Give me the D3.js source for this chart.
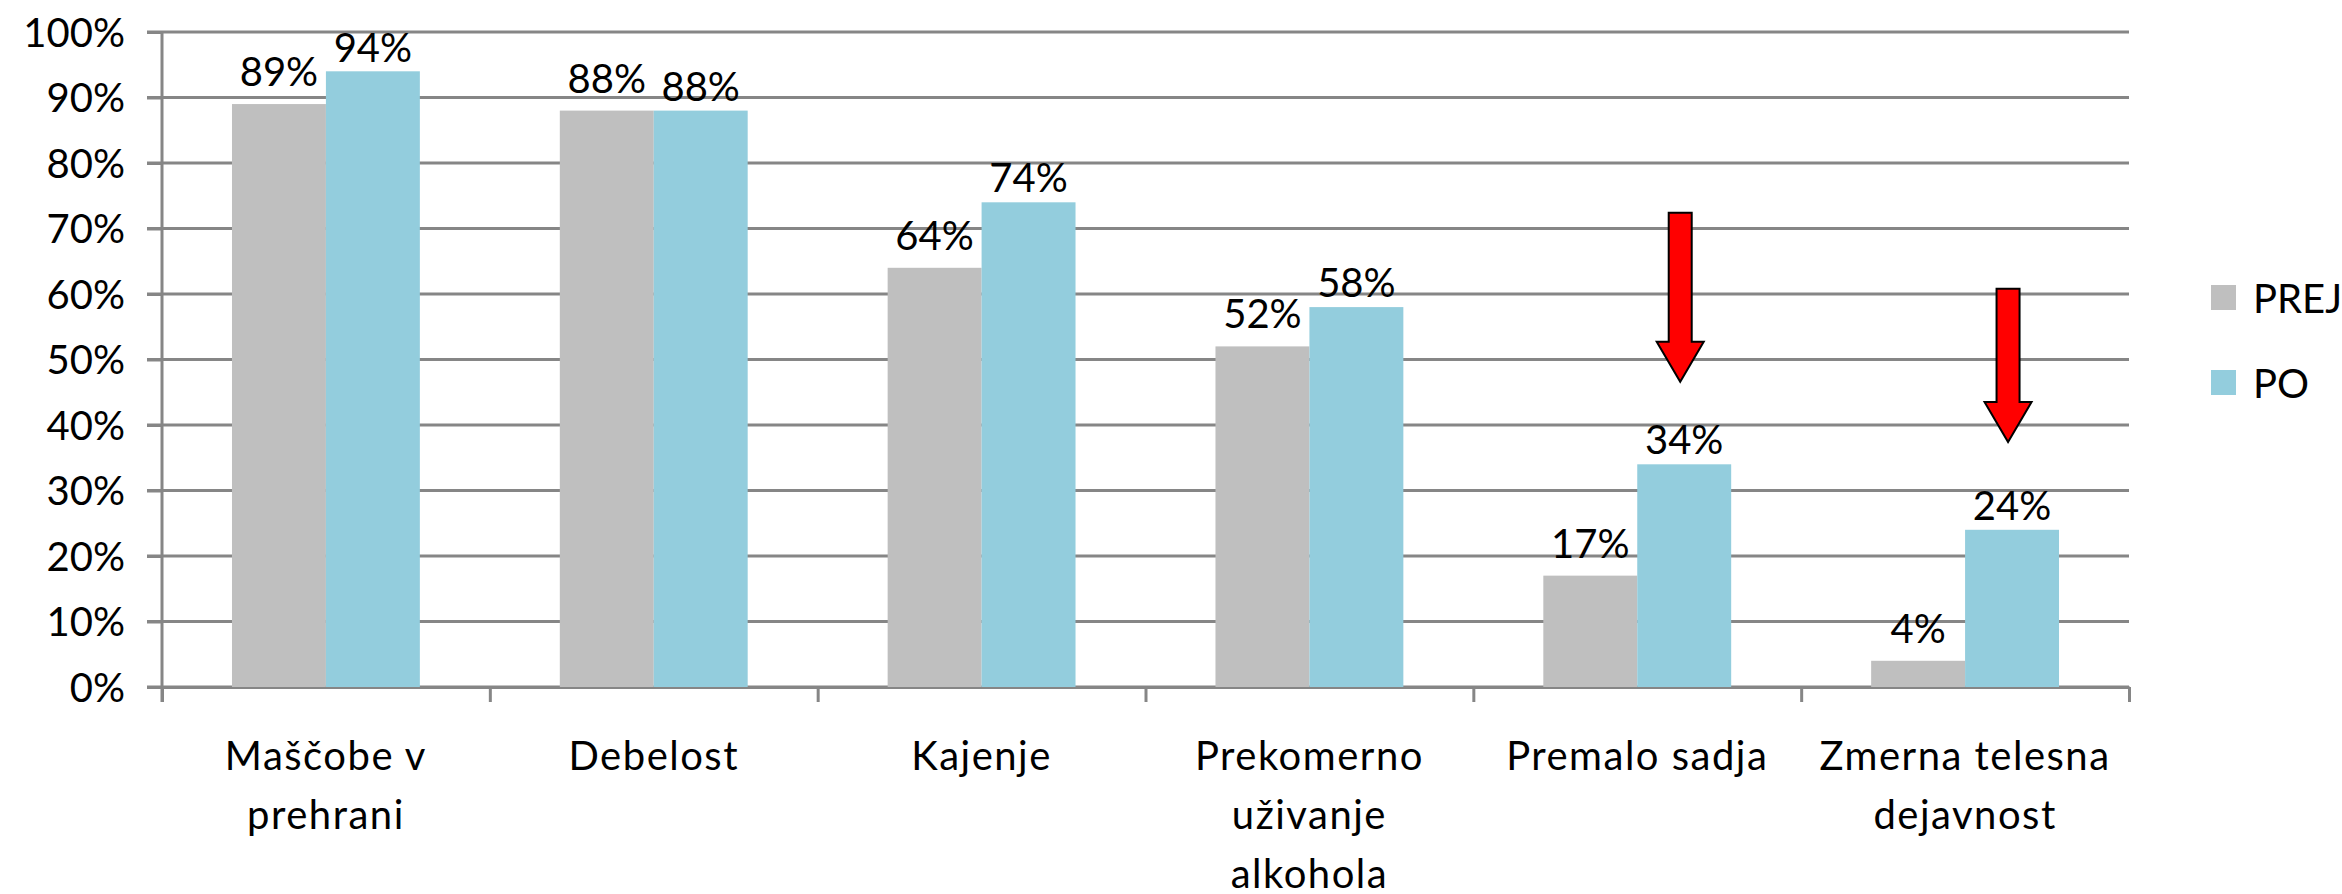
<html>
<head>
<meta charset="utf-8">
<script src="https://d3js.org/d3.v7.min.js"></script>
<style>
  body { margin: 0; background: white; }
  text { font-family: Lato, "Open Sans", sans-serif; fill: black; }
  .y.axis path { display: none; }
  .y.axis line, .x.axis line { stroke: #868686; stroke-width: 3; }
  .x.axis path { stroke: #868686; stroke-width: 3; }
</style>
</head>
<body>
<div id="chart"></div>
<script>
// data
var categories = ["Maščobe v\nprehrani", "Debelost", "Kajenje", "Prekomerno\nuživanje\nalkohola", "Premalo sadja", "Zmerna telesna\ndejavnost"];
var seriesNames = ["PREJ", "PO"];
var prej = [0.89, 0.88, 0.64, 0.52, 0.17, 0.04];
var po = [0.94, 0.88, 0.74, 0.58, 0.34, 0.24];
var yTicks = [0, 0.1, 0.2, 0.3, 0.4, 0.5, 0.6, 0.7, 0.8, 0.9, 1];
var colors = ["#BFBFBF", "#93CDDD"];

// red arrows (annotation) over the PO bars
var arrowCats = ["Premalo sadja", "Zmerna telesna\ndejavnost"];
var arrowFrom = [0.724, 0.608];
var arrowTo = [0.466, 0.374];

var W = 2342, H = 894;
var pLeft = 162, pRight = 2129, pTop = 32, pBottom = 687;
var fs = "40px";

var svg = d3.select("#chart").append("svg")
    .attr("width", W).attr("height", H);

var y = d3.scaleLinear().domain([0, 1]).range([pBottom, pTop]);
var x0 = d3.scaleBand().domain(categories).range([pLeft, pRight]).padding(0);
var x1 = d3.scaleBand().domain(seriesNames).range([0, x0.bandwidth()]).paddingInner(0).paddingOuter(0.745);

// gridlines
svg.append("g").selectAll("line")
  .data(yTicks)
  .enter().append("line")
    .attr("x1", pLeft - 15).attr("x2", pRight)
    .attr("y1", function(d) { return y(d); })
    .attr("y2", function(d) { return y(d); })
    .style("stroke", "#868686")
    .style("stroke-width", 3);

// y axis
var yAxis = svg.append("g")
    .attr("class", "y axis")
    .attr("transform", "translate(" + pLeft + ",0)")
    .call(d3.axisLeft(y).tickValues(yTicks).tickSize(15).tickPadding(22).tickFormat(d3.format(".0%")));
yAxis.selectAll("text").style("font-size", fs).style("font-family", "Lato").attr("dy", "0.36em");
yAxis.append("line").attr("x1", 0).attr("x2", 0).attr("y1", pTop).attr("y2", pBottom + 15);

// x axis (ticks at category boundaries)
var xb = d3.scaleLinear().domain([0, categories.length]).range([pLeft, pRight]);
svg.append("g")
    .attr("class", "x axis")
    .attr("transform", "translate(0," + pBottom + ")")
    .call(d3.axisBottom(xb).tickValues(d3.range(categories.length + 1)).tickSize(15).tickSizeOuter(0).tickFormat(""));

// bars
var data = categories.map(function(c, i) { return {cat: c, values: [prej[i], po[i]]}; });
var groups = svg.append("g").selectAll("g")
  .data(data)
  .enter().append("g")
    .attr("transform", function(d) { return "translate(" + x0(d.cat) + ",0)"; });

groups.selectAll("rect")
  .data(function(d) { return d.values.map(function(v, k) { return {s: seriesNames[k], v: v, k: k}; }); })
  .enter().append("rect")
    .attr("x", function(d) { return x1(d.s); })
    .attr("width", x1.bandwidth())
    .attr("y", function(d) { return y(d.v); })
    .attr("height", function(d) { return y(0) - y(d.v); })
    .style("fill", function(d) { return colors[d.k]; });

// value labels
var labelGap = [18, 10];
groups.selectAll("text")
  .data(function(d) { return d.values.map(function(v, k) { return {s: seriesNames[k], v: v, k: k}; }); })
  .enter().append("text")
    .attr("x", function(d) { return x1(d.s) + x1.bandwidth() / 2; })
    .attr("y", function(d) { return Math.max(y(d.v) - labelGap[d.k], pTop + 30); })
    .style("text-anchor", "middle")
    .style("font-size", fs)
    .text(function(d) { return d3.format(".0%")(d.v); });

// category labels
svg.append("g").selectAll("text")
  .data(categories)
  .enter().append("text")
    .attr("x", function(d) { return x0(d) + x0.bandwidth() / 2; })
    .attr("y", 770)
    .style("text-anchor", "middle")
    .style("font-size", fs)
    .style("letter-spacing", "1.5px")
    .each(function(d) {
      var t = d3.select(this);
      d.split("\n").forEach(function(line, i) {
        t.append("tspan")
          .attr("x", x0(d) + x0.bandwidth() / 2)
          .attr("dy", i === 0 ? 0 : 59)
          .text(line);
      });
    });

// arrows
arrowCats.forEach(function(c, i) {
  var cx = x0(c) + x1("PO") + x1.bandwidth() / 2 - 4;
  var ya = y(arrowFrom[i]), yb = y(arrowTo[i]);
  var head = 40, sw = 11.5, hw = 23.5;
  var pts = [
    [cx - sw, ya], [cx + sw, ya], [cx + sw, yb - head], [cx + hw, yb - head],
    [cx, yb], [cx - hw, yb - head], [cx - sw, yb - head]
  ];
  svg.append("path")
    .attr("d", d3.line()(pts) + "Z")
    .style("fill", "#FF0000")
    .style("stroke", "black")
    .style("stroke-width", 2);
});

// legend
var legend = svg.append("g").selectAll("g")
  .data(seriesNames)
  .enter().append("g")
    .attr("transform", function(d, i) { return "translate(2211," + (285 + i * 85) + ")"; });
legend.append("rect")
  .attr("width", 25).attr("height", 25)
  .style("fill", function(d, i) { return colors[i]; });
legend.append("text")
  .attr("x", 42).attr("y", 28)
  .style("font-size", fs)
  .text(function(d) { return d; });
</script>
</body>
</html>
